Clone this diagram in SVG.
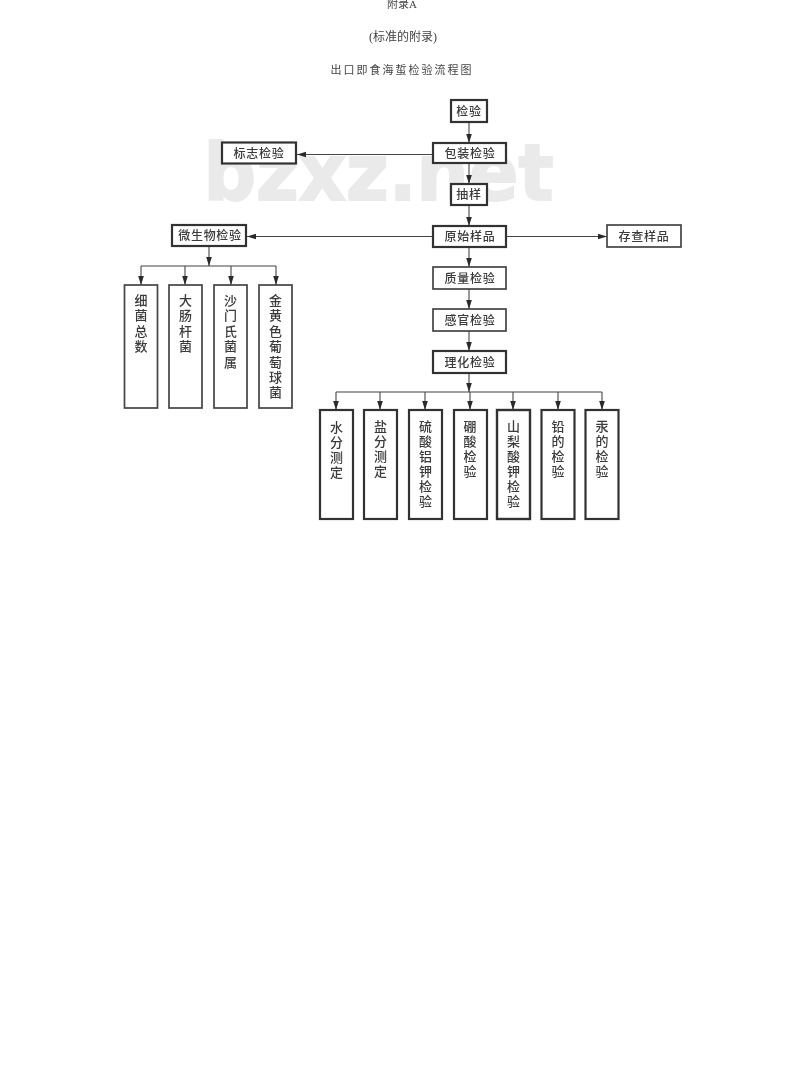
<svg xmlns="http://www.w3.org/2000/svg" width="800" height="1091" viewBox="0 0 800 1091">
<style>
text{font-family:"Liberation Serif","Noto Sans CJK SC",serif;fill:#3a3a3a}
.t{font-size:11px;text-anchor:middle;fill:#444}
.t2{font-size:12px}
.n{font-size:12px;text-anchor:middle;font-weight:500;font-family:"Noto Sans CJK SC","Noto Sans CJK JP",sans-serif;letter-spacing:.7px}
.v{font-size:13px;text-anchor:middle;font-weight:500;font-family:"Noto Sans CJK SC","Noto Sans CJK JP",sans-serif}
.b{fill:#fff;stroke:#333;stroke-width:2.2}
.l{fill:#fff;stroke:#444;stroke-width:1.7}
.c{fill:none;stroke:#444;stroke-width:1.1}
.a{marker-end:url(#ah)}
</style>
<defs>
<marker id="ah" markerUnits="userSpaceOnUse" markerWidth="10" markerHeight="8" refX="9" refY="4" orient="auto"><path d="M0,1.2 L9,4 L0,6.8 Z" fill="#2b2b2b"/></marker>
<filter id="soft" filterUnits="userSpaceOnUse" x="0" y="0" width="800" height="1091"><feGaussianBlur stdDeviation="0.4"/></filter>
</defs>
<rect width="800" height="1091" fill="#fff"/>
<g filter="url(#soft)">
<text x="378.500" y="200" textLength="350" lengthAdjust="spacingAndGlyphs" font-size="78" font-weight="700" text-anchor="middle" style="font-family:'DejaVu Sans',sans-serif;fill:#eaeaea;stroke:#eaeaea;stroke-width:2">bzxz.net</text>
<g id="titles">
<text class="t" x="402" y="8">附录A</text>
<text class="t t2" x="403" y="41">(标准的附录)</text>
<text class="t" x="402" y="74" letter-spacing="2">出口即食海蜇检验流程图</text>
</g>
<g id="connectors">
<path class="c a" d="M469,122V143"/>
<path class="c a" d="M433,154.500H297"/>
<path class="c a" d="M469,163V184"/>
<path class="c a" d="M469,205V226"/>
<path class="c a" d="M433,236.500H247"/>
<path class="c a" d="M506,236.500H607"/>
<path class="c a" d="M469,247V267"/>
<path class="c a" d="M469,289V309"/>
<path class="c a" d="M469,331V351"/>
<path class="c a" d="M209,246V266"/>
<path class="c" d="M141,266H276"/>
<path class="c a" d="M141,266V285"/>
<path class="c a" d="M185,266V285"/>
<path class="c a" d="M231,266V285"/>
<path class="c a" d="M276,266V285"/>
<path class="c a" d="M469,373V392"/>
<path class="c" d="M336,392H602"/>
<path class="c a" d="M336,392V410"/>
<path class="c a" d="M380,392V410"/>
<path class="c a" d="M425,392V410"/>
<path class="c a" d="M470,392V410"/>
<path class="c a" d="M513,392V410"/>
<path class="c a" d="M558,392V410"/>
<path class="c a" d="M602,392V410"/>
</g>
<g id="n-jianyan"><rect class="b" x="451" y="100" width="36" height="22"/><text class="n" x="469" y="115.500">检验</text></g>
<g id="n-baozhuang"><rect class="b" x="433" y="143" width="73" height="20"/><text class="n" x="470" y="157.500">包装检验</text></g>
<g id="n-biaozhi"><rect class="b" x="222" y="142.500" width="74" height="21"/><text class="n" x="259" y="157.500">标志检验</text></g>
<g id="n-chouyang"><rect class="b" x="451" y="184" width="36" height="21"/><text class="n" x="469" y="199">抽样</text></g>
<g id="n-yuanshi"><rect class="b" x="433" y="226" width="73" height="21"/><text class="n" x="470" y="241">原始样品</text></g>
<g id="n-weishengwu"><rect class="b" x="172" y="225" width="74" height="21"/><text class="n" x="210" y="240">微生物检验</text></g>
<g id="n-cuncha"><rect class="l" x="607" y="225" width="74" height="22"/><text class="n" x="644" y="240.500">存查样品</text></g>
<g id="n-zhiliang"><rect class="l" x="433" y="267" width="73" height="22"/><text class="n" x="470" y="282.500">质量检验</text></g>
<g id="n-ganguan"><rect class="l" x="433" y="309" width="73" height="22"/><text class="n" x="470" y="324.500">感官检验</text></g>
<g id="n-lihua"><rect class="b" x="433" y="351" width="73" height="22"/><text class="n" x="470" y="366.500">理化检验</text></g>
<g id="n-xijun"><rect class="l" x="124.500" y="285" width="33" height="123"/><text class="v" x="141" y="305"><tspan x="141">细</tspan><tspan x="141" dy="15.400">菌</tspan><tspan x="141" dy="15.400">总</tspan><tspan x="141" dy="15.400">数</tspan></text></g>
<g id="n-dachang"><rect class="l" x="169" y="285" width="33" height="123"/><text class="v" x="185.500" y="305"><tspan x="185.500">大</tspan><tspan x="185.500" dy="15.400">肠</tspan><tspan x="185.500" dy="15.400">杆</tspan><tspan x="185.500" dy="15.400">菌</tspan></text></g>
<g id="n-shamen"><rect class="l" x="214" y="285" width="33" height="123"/><text class="v" x="230.500" y="305"><tspan x="230.500">沙</tspan><tspan x="230.500" dy="15.400">门</tspan><tspan x="230.500" dy="15.400">氏</tspan><tspan x="230.500" dy="15.400">菌</tspan><tspan x="230.500" dy="15.400">属</tspan></text></g>
<g id="n-jinhuang"><rect class="l" x="259" y="285" width="33" height="123"/><text class="v" x="275.500" y="305"><tspan x="275.500">金</tspan><tspan x="275.500" dy="15.400">黄</tspan><tspan x="275.500" dy="15.400">色</tspan><tspan x="275.500" dy="15.400">葡</tspan><tspan x="275.500" dy="15.400">萄</tspan><tspan x="275.500" dy="15.400">球</tspan><tspan x="275.500" dy="15.400">菌</tspan></text></g>
<g id="n-shuifen"><rect class="b" x="320" y="410" width="33" height="109"/><text class="v" x="336.500" y="432"><tspan x="336.500">水</tspan><tspan x="336.500" dy="15">分</tspan><tspan x="336.500" dy="15">测</tspan><tspan x="336.500" dy="15">定</tspan></text></g>
<g id="n-yanfen"><rect class="b" x="364" y="410" width="33" height="109"/><text class="v" x="380.500" y="431"><tspan x="380.500">盐</tspan><tspan x="380.500" dy="15">分</tspan><tspan x="380.500" dy="15">测</tspan><tspan x="380.500" dy="15">定</tspan></text></g>
<g id="n-liusuan"><rect class="b" x="409" y="410" width="33" height="109"/><text class="v" x="425.500" y="431"><tspan x="425.500">硫</tspan><tspan x="425.500" dy="15">酸</tspan><tspan x="425.500" dy="15">铝</tspan><tspan x="425.500" dy="15">钾</tspan><tspan x="425.500" dy="15">检</tspan><tspan x="425.500" dy="15">验</tspan></text></g>
<g id="n-pengsuan"><rect class="b" x="454" y="410" width="33" height="109"/><text class="v" x="470" y="431"><tspan x="470">硼</tspan><tspan x="470" dy="15">酸</tspan><tspan x="470" dy="15">检</tspan><tspan x="470" dy="15">验</tspan></text></g>
<g id="n-shanli"><rect class="b" x="497" y="410" width="33" height="109" style="stroke-width:2.400"/><text class="v" x="513.500" y="431"><tspan x="513.500">山</tspan><tspan x="513.500" dy="15">梨</tspan><tspan x="513.500" dy="15">酸</tspan><tspan x="513.500" dy="15">钾</tspan><tspan x="513.500" dy="15">检</tspan><tspan x="513.500" dy="15">验</tspan></text></g>
<g id="n-qian"><rect class="b" x="541.500" y="410" width="33" height="109"/><text class="v" x="558" y="431"><tspan x="558">铅</tspan><tspan x="558" dy="15">的</tspan><tspan x="558" dy="15">检</tspan><tspan x="558" dy="15">验</tspan></text></g>
<g id="n-gong"><rect class="b" x="585.500" y="410" width="33" height="109"/><text class="v" x="602" y="431"><tspan x="602">汞</tspan><tspan x="602" dy="15">的</tspan><tspan x="602" dy="15">检</tspan><tspan x="602" dy="15">验</tspan></text></g>
</g>
</svg>
